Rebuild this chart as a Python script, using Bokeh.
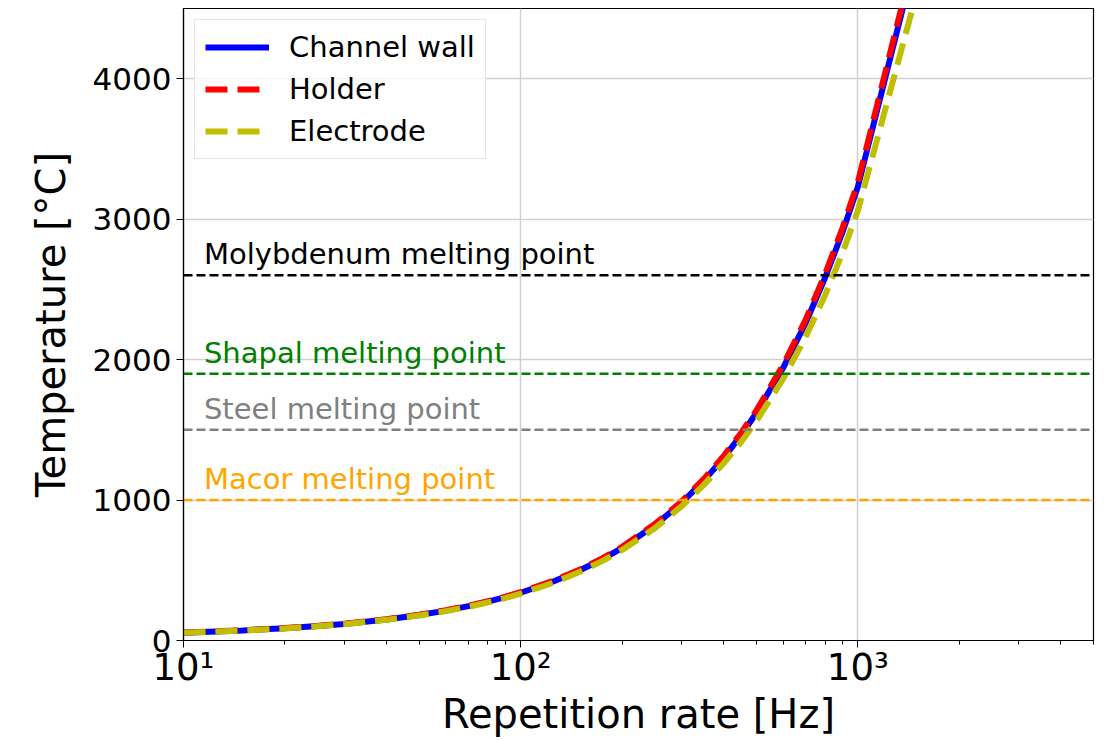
from bokeh.plotting import figure
from bokeh.models import FixedTicker, Legend, LegendItem, ColumnDataSource
from bokeh.core.properties import value
from bokeh.embed import file_html
from bokeh.resources import INLINE

# ---- data ----
freq_hz = [10, 15, 20, 25, 30, 40, 50, 60, 70, 80, 90, 100,
           125, 150, 175, 200, 250, 300, 350, 400, 450, 500,
           600, 700, 800, 900, 1000, 2000]
channel_wall = [56, 72, 88, 103, 118, 150, 181, 213, 245, 277, 309, 340,
                420, 500, 580, 660, 820, 980, 1140, 1300, 1460, 1620,
                1940, 2260, 2585, 2905, 3230, 6100]
holder = [57, 73, 89, 104, 120, 152, 183, 216, 248, 280, 312, 344,
          425, 506, 587, 667, 829, 990, 1152, 1314, 1476, 1637,
          1960, 2284, 2610, 2935, 3262, 6160]
electrode = [55, 71, 86, 101, 116, 147, 178, 209, 240, 271, 302, 333,
             411, 489, 567, 645, 800, 955, 1110, 1262, 1412, 1562,
             1862, 2160, 2460, 2758, 3060, 5730]

melt_names = ["Molybdenum melting point", "Shapal melting point",
              "Steel melting point", "Macor melting point"]
melt_temps = [2600, 1900, 1500, 1000]
melt_colors = ["black", "green", "gray", "orange"]
label_x = [11.5, 11.5, 11.5, 11.5]

x_major = [10, 100, 1000]
x_major_labels = ["10\u00b9", "10\u00b2", "10\u00b3"]
x_minor = [20, 30, 40, 50, 60, 70, 80, 90,
           200, 300, 400, 500, 600, 700, 800, 900,
           2000, 3000, 4000, 5000]
y_ticks = [0, 1000, 2000, 3000, 4000]

FONT = "DejaVu Sans"

p = figure(width=1104, height=740, x_axis_type="log",
           x_range=(10, 5000), y_range=(0, 4500),
           output_backend="svg", toolbar_location=None)
p.min_border_left = 183
p.min_border_right = 11
p.min_border_top = 8
p.min_border_bottom = 100
p.background_fill_color = "white"
p.border_fill_color = "white"
p.outline_line_color = "black"
p.outline_line_width = 1.2

# axes
p.xaxis.ticker = FixedTicker(ticks=x_major, minor_ticks=x_minor)
p.xaxis.major_label_overrides = {t: s for t, s in zip(x_major, x_major_labels)}
p.yaxis.ticker = FixedTicker(ticks=y_ticks)
for ax in (p.xaxis, p.yaxis):
    ax.major_label_text_font = FONT
    ax.major_label_text_color = "black"
    ax.axis_label_text_font = FONT
    ax.axis_label_text_font_size = "40px"
    ax.axis_label_text_font_style = "normal"
    ax.axis_label_text_color = "black"
    ax.axis_line_color = "black"
    ax.axis_line_width = 1.2
    ax.major_tick_line_color = "black"
    ax.major_tick_out = 7
    ax.major_tick_in = 0
    ax.minor_tick_line_color = "black"
    ax.minor_tick_out = 4
    ax.minor_tick_in = 0
p.yaxis.minor_tick_line_color = None
p.xaxis.major_label_text_font_size = "37px"
p.yaxis.major_label_text_font_size = "31px"
p.xaxis.major_label_standoff = -2
p.yaxis.major_label_standoff = 5
p.xaxis.axis_label = "Repetition rate [Hz]"
p.yaxis.axis_label = "Temperature [\u00b0C]"
p.xaxis.axis_label_standoff = -1
p.yaxis.axis_label_standoff = 16

p.xgrid.ticker = FixedTicker(ticks=x_major)
p.ygrid.ticker = FixedTicker(ticks=y_ticks)
for g in (p.xgrid, p.ygrid):
    g.grid_line_color = "#d0d0d0"
    g.grid_line_width = 1.5

# curves
src = ColumnDataSource(dict(f=freq_hz, cw=channel_wall, h=holder, e=electrode))
r_cw = p.line("f", "cw", source=src, line_color="#0000ff", line_width=6)
r_h = p.line("f", "h", source=src, line_color="#ff0000", line_width=6,
             line_dash="22 10")
r_e = p.line("f", "e", source=src, line_color="#bfbf00", line_width=6,
             line_dash="22 10")

# melting point lines and labels
for t, c in zip(melt_temps, melt_colors):
    p.line(x=[10, 5000], y=[t, t], line_color=c, line_width=2.5,
           line_dash="9 4")
msrc = ColumnDataSource(dict(x=label_x, y=melt_temps, t=melt_names, c=melt_colors))
p.text(x="x", y="y", text="t", source=msrc, text_color="c",
       text_font=value(FONT), text_font_size="29px",
       text_baseline="alphabetic", text_align="left", y_offset=-21)

legend = Legend(items=[
    LegendItem(label="Channel wall", renderers=[r_cw]),
    LegendItem(label="Holder", renderers=[r_h]),
    LegendItem(label="Electrode", renderers=[r_e]),
], location="top_left")
legend.label_text_font = FONT
legend.label_text_font_size = "29px"
legend.label_text_color = "black"
legend.glyph_width = 64
legend.glyph_height = 30
legend.label_height = 30
legend.label_standoff = 20
legend.spacing = 8
legend.padding = 10
legend.margin = 11
legend.border_line_color = "#cccccc"
legend.border_line_width = 1
legend.background_fill_color = "white"
legend.background_fill_alpha = 0.8
p.add_layout(legend)

open("out.html", "w").write(file_html(p, INLINE))
